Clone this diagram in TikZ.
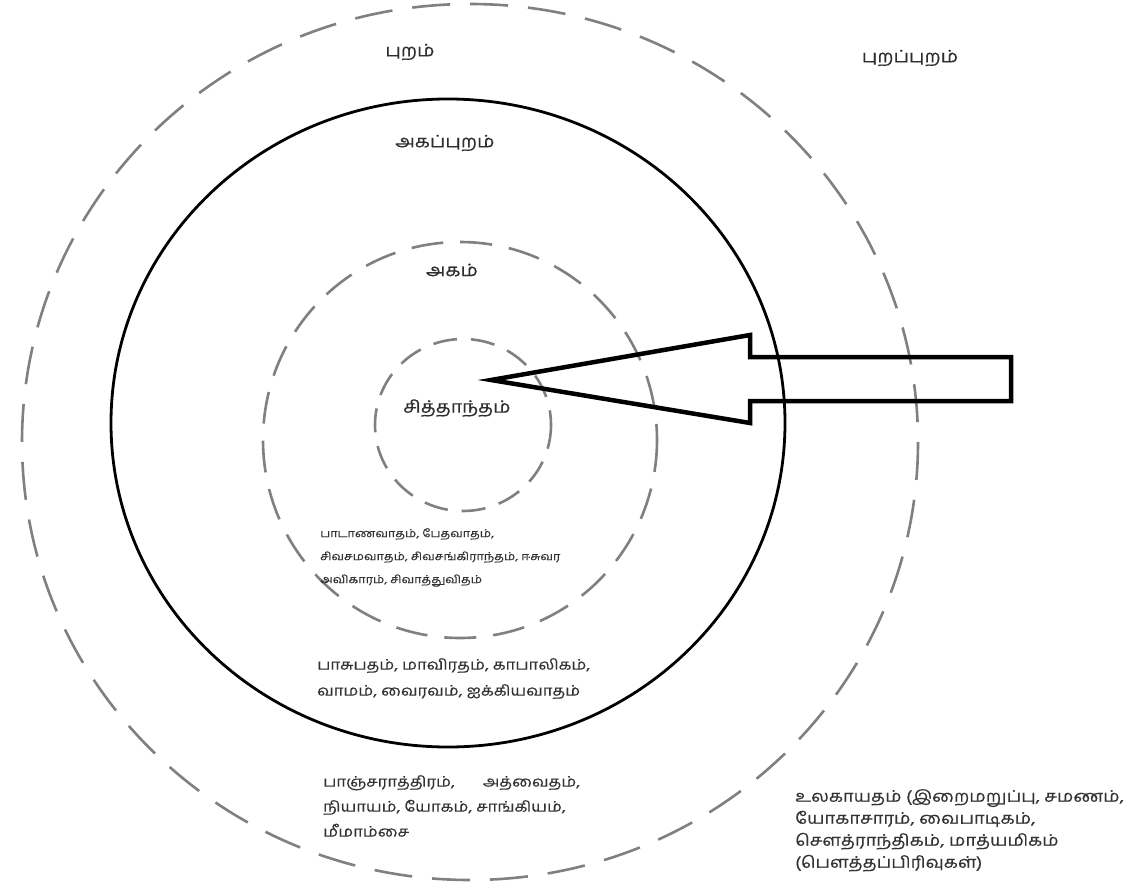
\documentclass[tikz,border=0pt]{standalone}
\usepackage{fontspec}
\newfontfamily\tamilfont[Script=Tamil,FakeStretch=1.15,FakeBold=0.3]{Hind Madurai}
\newfontfamily\tamilhead[Script=Tamil,FakeStretch=1.15,FakeBold=0.6]{Hind Madurai}
\begin{document}
\begin{tikzpicture}[x=1pt,y=-1pt,
  ring/.style={draw=black!50, line width=2.6pt},
  solidring/.style={draw=black, line width=2.8pt},
  lbl/.style={text=black!82, inner sep=0pt, font=\tamilhead\fontsize{17}{20}\selectfont},
  blocktxt/.style={text=black!80, inner sep=0pt, anchor=north west, align=left},
  bigarrow/.style={draw=black, line width=4.5pt, line join=miter}]
\useasboundingbox (0,0) rectangle (1142,890);
\fill[white] (0,0) rectangle (1142,890);
% rings
\draw[ring, dash pattern=on 38pt off 20pt] (470,442) ellipse [x radius=448, y radius=438];
\draw[solidring] (448,423) ellipse [x radius=337, y radius=324];
\draw[ring, dash pattern=on 32pt off 17pt] (460,440) ellipse [x radius=197, y radius=198];
\draw[ring, dash pattern=on 24pt off 14pt] (463,425) ellipse [x radius=88, y radius=86];
% labels
\node[lbl] (puram) at (410,52) {புறம்};
\node[lbl] (purappuram) at (910,58) {புறப்புறம்};
\node[lbl] (akappuram) at (445,143) {அகப்புறம்};
\node[lbl] (akam) at (452,270) {அகம்};
\node[lbl] (siddhantam) at (457,408) {சித்தாந்தம்};
% text blocks
\node[blocktxt, font=\tamilfont\fontsize{11}{23}\selectfont] (inner) at (320,528)
  {பாடாணவாதம், பேதவாதம், \\ சிவசமவாதம், சிவசங்கிராந்தம், ஈசுவர \\ அவிகாரம், சிவாத்துவிதம்};
\node[blocktxt, font=\tamilfont\fontsize{14.5}{26}\selectfont] (middle) at (317,658)
  {பாசுபதம், மாவிரதம், காபாலிகம், \\ வாமம், வைரவம், ஐக்கியவாதம்};
\node[blocktxt, font=\tamilfont\fontsize{14.5}{25}\selectfont] (lower) at (323,775)
  {பாஞ்சராத்திரம்,\hspace{28pt}அத்வைதம், \\ நியாயம், யோகம், சாங்கியம், \\ மீமாம்சை};
\node[blocktxt, font=\tamilfont\fontsize{16}{22}\selectfont] (outside) at (795,789)
  {உலகாயதம் (இறைமறுப்பு, சமணம், \\ யோகாசாரம், வைபாடிகம், \\ சௌத்ராந்திகம், மாத்யமிகம் \\ (பௌத்தப்பிரிவுகள்)};
% arrow
\coordinate (tip) at (491,380);
\draw[bigarrow] (tip) -- (750,335) -- (750,357) -- (1011,357) -- (1011,401) -- (750,401) -- (750,423) -- cycle;
\end{tikzpicture}
\end{document}
